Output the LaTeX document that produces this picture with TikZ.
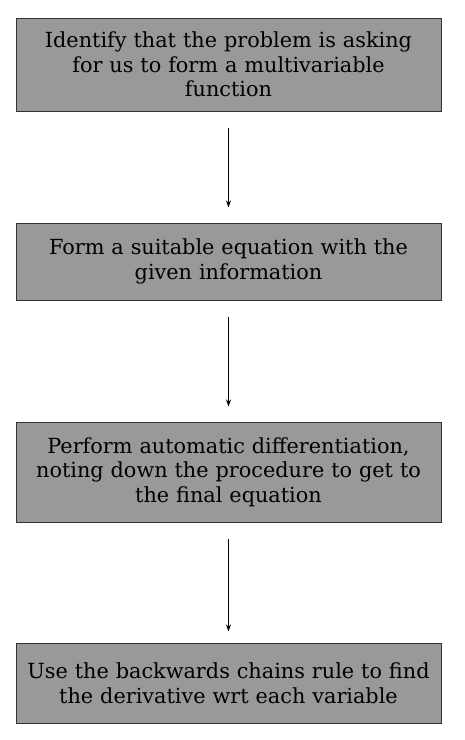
\documentclass[tikz,border=0pt]{standalone}
\usepackage{fontspec}
\setmainfont{DejaVu Serif}
\usepackage{tikz}
\usetikzlibrary{positioning, arrows.meta}

\begin{document}
\begin{tikzpicture}[x=1pt, y=-1pt,
    stepbox/.style={draw=black!80, fill=black!40, line width=1pt,
        minimum width=425pt, text width=420pt, align=center,
        inner sep=0pt, font=\fontsize{20.8}{24.5}\selectfont},
    flow/.style={-{Stealth[length=7pt, width=5pt]}, line width=1pt,
        shorten <=16pt, shorten >=15pt}]
            \useasboundingbox (0,0) rectangle (464,740);

            \node[stepbox, minimum height=93pt] (identify) at (228.5, 64.5)
                {Identify that the problem is asking\\ for us to form a multivariable\\ function};
            \node[stepbox, minimum height=77pt] (form) at (228.5, 261.5)
                {Form a suitable equation with the\\ given information};
            \node[stepbox, minimum height=100pt] (autodiff) at (228.5, 472)
                {Perform automatic differentiation,\\ noting down the procedure to get to\\ the final equation};
            \node[stepbox, minimum height=80pt] (chain) at (228.5, 683)
                {Use the backwards chains rule to find\\ the derivative wrt each variable};

            \draw[flow] (identify) -- (form);
            \draw[flow] (form) -- (autodiff);
            \draw[flow, shorten >=11pt] (autodiff) -- (chain);
        \end{tikzpicture}
\end{document}
